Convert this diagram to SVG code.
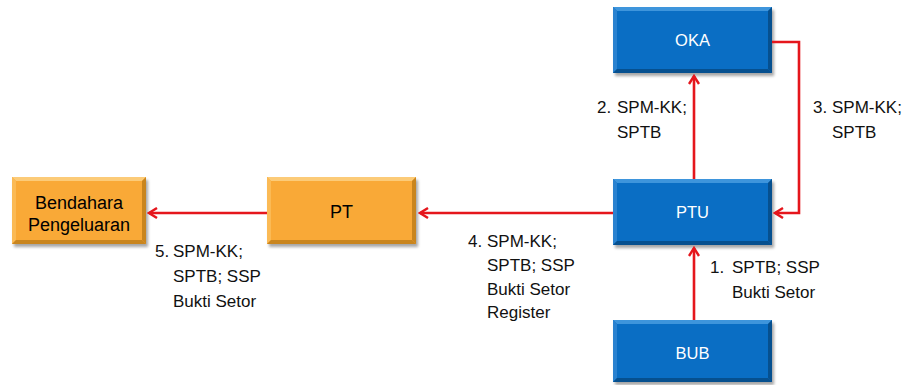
<svg xmlns="http://www.w3.org/2000/svg" width="909" height="385" viewBox="0 0 909 385">
  <defs>
    <style>
      .shadow { fill: #000; opacity: 0.35; filter: url(#soft); }
      .blue .face { fill: #0A6EC4; }
      .blue .hi { fill: #3E95DC; }
      .blue .side { fill: #2A82D0; }
      .blue .lo { fill: #06508F; }
      .orange .face { fill: #F9A937; }
      .orange .hi { fill: #FCCB78; }
      .orange .side { fill: #FBBA55; }
      .orange .lo { fill: #C9851E; }
      .lbl-w { font-family: "Liberation Sans", Arial, sans-serif; font-size: 16.5px; fill: #fff; text-anchor: middle; }
      .lbl-k { font-family: "Liberation Sans", Arial, sans-serif; font-size: 18px; fill: #000; text-anchor: middle; }
      .note { font-family: "Liberation Sans", Arial, sans-serif; font-size: 17px; fill: #111; }
      .wire { fill: none; stroke: #E5161C; stroke-width: 2.6; marker-end: url(#head); }
    </style>
    <filter id="soft" x="-10%" y="-10%" width="120%" height="130%">
      <feGaussianBlur stdDeviation="1.5"/>
    </filter>
    <marker id="head" viewBox="0 0 12 12" refX="10" refY="6" markerWidth="12" markerHeight="12" markerUnits="userSpaceOnUse" orient="auto">
      <path d="M2,1 L10,6 L2,11" fill="none" stroke="#E5161C" stroke-width="2.4" stroke-linejoin="miter"/>
    </marker>
  </defs>

  <rect width="909" height="385" fill="#fff"/>

  <!-- OKA -->
  <g id="oka" class="blue">
    <rect class="shadow" x="615" y="10" width="159" height="66"/>
    <rect class="face" x="613" y="7" width="159" height="66"/>
    <polygon class="hi" points="613,7 772,7 768,11 617,11"/>
    <polygon class="side" points="613,7 617,11 617,69 613,73"/>
    <polygon class="lo" points="613,73 617,69 768,69 772,73"/>
    <polygon class="lo" points="772,7 772,73 768,69 768,11"/>
    <text class="lbl-w" x="692.5" y="46">OKA</text>
  </g>

  <!-- PTU -->
  <g id="ptu" class="blue">
    <rect class="shadow" x="615" y="182" width="159" height="66"/>
    <rect class="face" x="613" y="179" width="159" height="66"/>
    <polygon class="hi" points="613,179 772,179 768,183 617,183"/>
    <polygon class="side" points="613,179 617,183 617,241 613,245"/>
    <polygon class="lo" points="613,245 617,241 768,241 772,245"/>
    <polygon class="lo" points="772,179 772,245 768,241 768,183"/>
    <text class="lbl-w" x="692.5" y="218">PTU</text>
  </g>

  <!-- BUB -->
  <g id="bub" class="blue">
    <rect class="shadow" x="615" y="323" width="159" height="62"/>
    <rect class="face" x="613" y="320" width="159" height="62"/>
    <polygon class="hi" points="613,320 772,320 768,324 617,324"/>
    <polygon class="side" points="613,320 617,324 617,378 613,382"/>
    <polygon class="lo" points="613,382 617,378 768,378 772,382"/>
    <polygon class="lo" points="772,320 772,382 768,378 768,324"/>
    <text class="lbl-w" x="692.5" y="359">BUB</text>
  </g>

  <!-- PT -->
  <g id="pt" class="orange">
    <rect class="shadow" x="269" y="180" width="149" height="67"/>
    <rect class="face" x="267" y="177" width="149" height="67"/>
    <polygon class="hi" points="267,177 416,177 412,181 271,181"/>
    <polygon class="side" points="267,177 271,181 271,240 267,244"/>
    <polygon class="lo" points="267,244 271,240 412,240 416,244"/>
    <polygon class="lo" points="416,177 416,244 412,240 412,181"/>
    <text class="lbl-k" x="341.5" y="218">PT</text>
  </g>

  <!-- Bendahara Pengeluaran -->
  <g id="bendahara" class="orange">
    <rect class="shadow" x="14" y="180" width="134" height="67"/>
    <rect class="face" x="12" y="177" width="134" height="67"/>
    <polygon class="hi" points="12,177 146,177 142,181 16,181"/>
    <polygon class="side" points="12,177 16,181 16,240 12,244"/>
    <polygon class="lo" points="12,244 16,240 142,240 146,244"/>
    <polygon class="lo" points="146,177 146,244 142,240 142,181"/>
    <text class="lbl-k" x="79" y="209">Bendahara</text>
    <text class="lbl-k" x="79" y="231">Pengeluaran</text>
  </g>

  <!-- connectors -->
  <g id="connectors">
    <path class="wire" d="M694,320 L694,248"/>
    <path class="wire" d="M694,179 L694,76"/>
    <path class="wire" d="M772,42 L799,42 L799,213 L775,213"/>
    <path class="wire" d="M613,213 L420,213"/>
    <path class="wire" d="M267,213 L149,213"/>
  </g>

  <!-- connector labels -->
  <g id="labels">
    <text class="note" x="597" y="113">2.</text>
    <text class="note" x="617" y="113">SPM-KK;</text>
    <text class="note" x="617" y="138">SPTB</text>

    <text class="note" x="813" y="113">3.</text>
    <text class="note" x="832" y="113">SPM-KK;</text>
    <text class="note" x="832" y="138">SPTB</text>

    <text class="note" x="710" y="273">1.</text>
    <text class="note" x="732" y="273">SPTB; SSP</text>
    <text class="note" x="732" y="298">Bukti Setor</text>

    <text class="note" x="468" y="247">4.</text>
    <text class="note" x="487" y="247">SPM-KK;</text>
    <text class="note" x="487" y="271">SPTB; SSP</text>
    <text class="note" x="487" y="295">Bukti Setor</text>
    <text class="note" x="487" y="318">Register</text>

    <text class="note" x="155" y="257">5.</text>
    <text class="note" x="173" y="257">SPM-KK;</text>
    <text class="note" x="173" y="282">SPTB; SSP</text>
    <text class="note" x="173" y="307">Bukti Setor</text>
  </g>
</svg>
